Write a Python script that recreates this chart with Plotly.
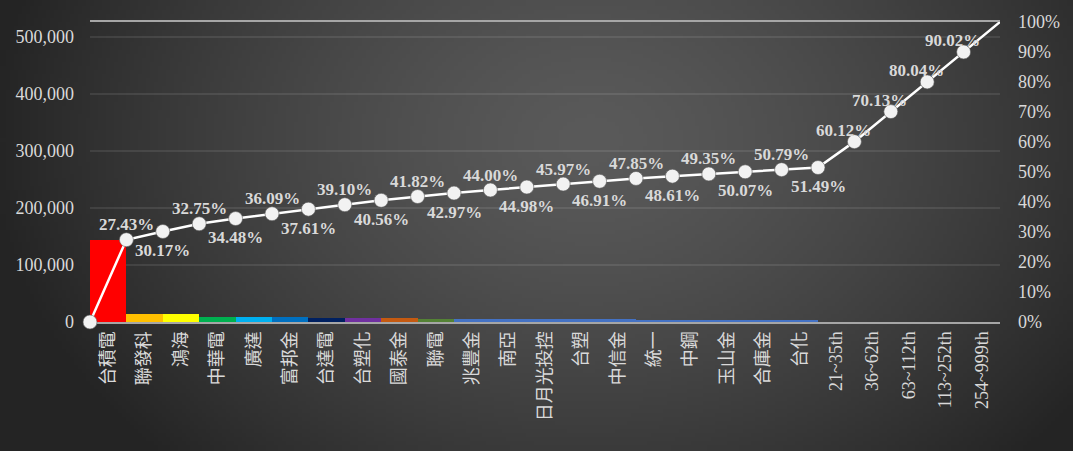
import base64
import struct
import zlib

import numpy as np
import plotly.graph_objects as go

# ---------------- data ----------------
categories = ["台積電", "聯發科", "鴻海", "中華電", "廣達", "富邦金", "台達電", "台塑化",
              "國泰金", "聯電", "兆豐金", "南亞", "日月光投控", "台塑", "中信金", "統一",
              "中鋼", "玉山金", "合庫金", "台化", "21~35th", "36~62th", "63~112th",
              "113~252th", "254~999th"]

bar_values = [144300, 14400, 13600, 9100, 8500, 8000, 7800, 7700, 6600, 6000,
              5400, 5200, 5200, 4900, 4900, 4000, 3900, 3800, 3800, 3700,
              None, None, None, None, None]

cum_pct = [0, 27.43, 30.17, 32.75, 34.48, 36.09, 37.61, 39.10, 40.56, 41.82, 42.97,
           44.00, 44.98, 45.97, 46.91, 47.85, 48.61, 49.35, 50.07, 50.79, 51.49,
           60.12, 70.13, 80.04, 90.02, 100]

bar_colors = ["#FF0000", "#FFC000", "#FFFF00", "#00B050", "#00B0F0", "#0070C0",
              "#002060", "#7030A0", "#C55A11", "#548235"] + ["#4472C4"] * 15

left_ticks = [0, 100000, 200000, 300000, 400000, 500000]
right_ticks = [0, 10, 20, 30, 40, 50, 60, 70, 80, 90, 100]
right_tick_text = ["0%", "10%", "20%", "30%", "40%", "50%", "60%", "70%", "80%", "90%", "100%"]

# left axis max aligned so that 100% matches the total
total = bar_values[0] / (cum_pct[1] / 100.0)

# ---------------- background gradient image ----------------
W, H = 1073, 451
w, h = 268, 113
xs = (np.arange(w) + 0.5) * W / w
ys = (np.arange(h) + 0.5) * H / h
X, Y = np.meshgrid(xs, ys)
cx, cy, rx, ry = 590, 140, 620, 470
r = np.sqrt(((X - cx) / rx) ** 2 + ((Y - cy) / ry) ** 2)
v = 90 - 56 * np.clip(r, 0, 1.2) ** 1.4
v = np.clip(v, 36, 92).astype(np.uint8)
img = np.stack([v, v, v], axis=-1)


def png_bytes(arr):
    hh, ww, _ = arr.shape
    raw = b"".join(b"\x00" + arr[i].tobytes() for i in range(hh))

    def chunk(tag, data):
        c = struct.pack(">I", len(data)) + tag + data
        return c + struct.pack(">I", zlib.crc32(tag + data) & 0xffffffff)

    return (b"\x89PNG\r\n\x1a\n" +
            chunk(b"IHDR", struct.pack(">IIBBBBB", ww, hh, 8, 2, 0, 0, 0)) +
            chunk(b"IDAT", zlib.compress(raw, 9)) +
            chunk(b"IEND", b""))


bg_uri = "data:image/png;base64," + base64.b64encode(png_bytes(img)).decode()

# ---------------- figure ----------------
ML, MR, MT, MB = 90, 73, 22, 129
PW, PH = W - ML - MR, H - MT - MB

n = len(categories)
bar_x = list(range(n))
line_x = [i - 0.5 for i in range(n + 1)]
msize = [14] * (len(cum_pct) - 1) + [0]

font_family = "Liberation Serif, Noto Sans CJK TC, serif"
txtcol = "#D9D9D9"

fig = go.Figure()
fig.add_trace(go.Bar(
    x=bar_x, y=bar_values, marker=dict(color=bar_colors, line=dict(width=0)),
    yaxis="y", showlegend=False, hoverinfo="x+y"))
fig.add_trace(go.Scatter(
    x=line_x, y=cum_pct, yaxis="y2", mode="lines+markers",
    line=dict(color="#FFFFFF", width=2.5),
    marker=dict(size=msize, color="#F2F2F2", opacity=1,
                line=dict(width=1, color="rgba(90,90,90,0.6)")),
    showlegend=False, cliponaxis=False))

annotations = []
for k in range(1, len(cum_pct) - 1):
    if k <= 20:
        above = (k % 2 == 1)
        xs_, ys_ = 0, (15 if above else -19)
    else:
        xs_, ys_ = -11, 11
    annotations.append(dict(
        x=line_x[k], y=cum_pct[k], xref="x", yref="y2",
        text=f"{cum_pct[k]:.2f}%", showarrow=False, xshift=xs_, yshift=ys_,
        font=dict(family=font_family, size=17, color=txtcol, weight="bold")))

fig.update_layout(
    width=W, height=H,
    margin=dict(l=ML, r=MR, t=MT, b=MB, pad=0),
    paper_bgcolor="#333333", plot_bgcolor="rgba(0,0,0,0)",
    bargap=0,
    font=dict(family=font_family, color=txtcol),
    annotations=annotations,
    images=[dict(source=bg_uri, xref="paper", yref="paper",
                 x=-ML / PW, y=1 + MT / PH, sizex=W / PW, sizey=H / PH,
                 sizing="stretch", xanchor="left", yanchor="top",
                 layer="below", opacity=1)],
    xaxis=dict(range=[-0.5, n - 0.5], tickmode="array", tickvals=bar_x,
               ticktext=categories, tickangle=-90,
               tickfont=dict(size=18, color=txtcol, family=font_family),
               showgrid=False, zeroline=False, showline=True, mirror=True,
               linecolor="#A6A6A6", linewidth=2, ticks="", layer="below traces",
               ticklabelstandoff=0),
    yaxis=dict(range=[0, total], tickmode="array", tickvals=left_ticks,
               tickformat=",", tickfont=dict(size=18, color=txtcol),
               showgrid=True, gridcolor="rgba(255,255,255,0.09)", gridwidth=2,
               zeroline=False, showline=False, ticks="", ticklabelstandoff=15),
    yaxis2=dict(range=[0, 100], overlaying="y", side="right", tickmode="array",
                tickvals=right_ticks, ticktext=right_tick_text,
                tickfont=dict(size=18, color=txtcol),
                showgrid=False, zeroline=False, showline=False, ticks="",
                ticklabelstandoff=17),
)

fig.write_html("out.html")
